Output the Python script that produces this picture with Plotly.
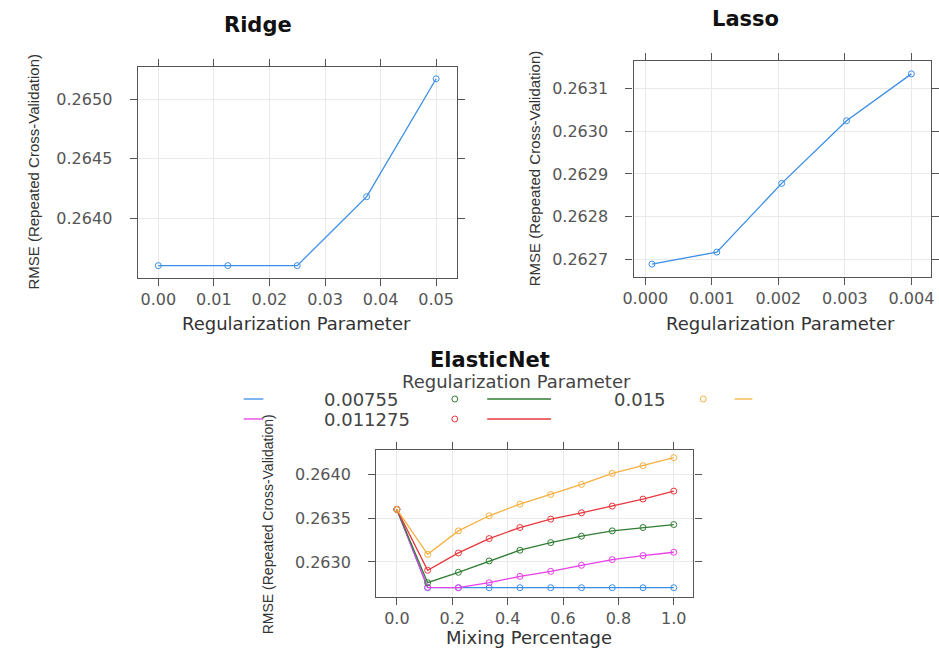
import plotly.graph_objects as go

W, H = 939, 648

# ---------------- data ----------------
ridge_lambda = [0.0, 0.0125, 0.025, 0.0375, 0.05]
ridge_rmse = [0.263602, 0.263602, 0.263602, 0.264181, 0.265171]

lasso_lambda = [0.0001, 0.001075, 0.00205, 0.003025, 0.004]
lasso_rmse = [0.262690, 0.262718, 0.262878, 0.263024, 0.263133]

en_alpha = [0.0, 0.1111, 0.2222, 0.3333, 0.4444, 0.5556, 0.6667, 0.7778, 0.8889, 1.0]
en_lambda_labels = ["0.0001", "0.003875", "0.00755", "0.011275", "0.015"]
en_rmse_0001 = [0.263600, 0.262706, 0.262706, 0.262706, 0.262706, 0.262706, 0.262706, 0.262706, 0.262706, 0.262706]
en_rmse_003875 = [0.263600, 0.262710, 0.262706, 0.262763, 0.262836, 0.262893, 0.262962, 0.263027, 0.263073, 0.263111]
en_rmse_00755 = [0.263600, 0.262763, 0.262882, 0.263011, 0.263134, 0.263221, 0.263294, 0.263355, 0.263393, 0.263427]
en_rmse_011275 = [0.263600, 0.262905, 0.263103, 0.263267, 0.263393, 0.263489, 0.263561, 0.263637, 0.263718, 0.263809]
en_rmse_015 = [0.263600, 0.263088, 0.263355, 0.263527, 0.263660, 0.263771, 0.263885, 0.264011, 0.264099, 0.264191]
en_series = [en_rmse_0001, en_rmse_003875, en_rmse_00755, en_rmse_011275, en_rmse_015]

ridge_xticks = [0.0, 0.01, 0.02, 0.03, 0.04, 0.05]
ridge_yticks = [0.2640, 0.2645, 0.2650]
lasso_xticks = [0.0, 0.001, 0.002, 0.003, 0.004]
lasso_yticks = [0.2627, 0.2628, 0.2629, 0.2630, 0.2631]
en_xticks = [0.0, 0.2, 0.4, 0.6, 0.8, 1.0]
en_yticks = [0.2630, 0.2635, 0.2640]

# ---------------- style ----------------
colors = ["#3a8ee6", "#e83ee8", "#2e7d32", "#e8383d", "#f5b040"]
HFONT = "DejaVu Sans"
VFONT = "Liberation Sans"


def px(x):
    return x / W


def py(y):
    return 1 - y / H


fig = go.Figure()

marker = dict(symbol="circle-open", size=6, line=dict(width=1))

fig.add_trace(go.Scatter(x=ridge_lambda, y=ridge_rmse, mode="lines+markers",
                         line=dict(color=colors[0], width=1.3),
                         marker=dict(color=colors[0], **marker),
                         xaxis="x", yaxis="y", showlegend=False))
fig.add_trace(go.Scatter(x=lasso_lambda, y=lasso_rmse, mode="lines+markers",
                         line=dict(color=colors[0], width=1.3),
                         marker=dict(color=colors[0], **marker),
                         xaxis="x2", yaxis="y2", showlegend=False))
for vals, col, name in zip(en_series, colors, en_lambda_labels):
    fig.add_trace(go.Scatter(x=en_alpha, y=vals, mode="lines+markers", name=name,
                             line=dict(color=col, width=1.3),
                             marker=dict(color=col, **marker),
                             xaxis="x3", yaxis="y3", showlegend=False))

common = dict(showline=True, linecolor="#555", linewidth=1.3, mirror="ticks",
              ticks="outside", ticklen=7, tickwidth=1.2, tickcolor="#555",
              showgrid=True, gridcolor="#e9e9e9", gridwidth=1, zeroline=False,
              tickfont=dict(family=HFONT, size=16, color="#555"))

XSO, YSO = 0, 14

fig.update_layout(
    width=W, height=H, margin=dict(l=0, r=0, t=0, b=0),
    paper_bgcolor="white", plot_bgcolor="white",
    xaxis=dict(domain=[px(129), px(454)], range=[-0.00371, 0.05371], anchor="y",
               tickvals=ridge_xticks, tickformat=".2f", ticklabelstandoff=XSO, **common),
    yaxis=dict(domain=[py(278), py(67)], range=[0.263498, 0.26527], anchor="x",
               tickvals=ridge_yticks, tickformat=".4f", ticklabelstandoff=YSO, **common),
    xaxis2=dict(domain=[px(634), px(937)], range=[-0.000177, 0.004295], anchor="y2",
                tickvals=lasso_xticks, tickformat=".3f", ticklabelstandoff=XSO, **common),
    yaxis2=dict(domain=[py(277), py(61)], range=[0.26266, 0.263163], anchor="x2",
                tickvals=lasso_yticks, tickformat=".4f", ticklabelstandoff=YSO, **common),
    xaxis3=dict(domain=[px(372), px(695)], range=[-0.0744, 1.0709], anchor="y3",
                tickvals=en_xticks, tickformat=".1f", ticklabelstandoff=XSO, **common),
    yaxis3=dict(domain=[py(597), py(450)], range=[0.2626, 0.264278], anchor="x3",
                tickvals=en_yticks, tickformat=".4f", ticklabelstandoff=YSO, **common),
)

# ---------------- titles & axis labels ----------------
ann = []


def text(t, x, y, size, family=HFONT, color="#333", bold=False, angle=0,
         xanchor="center"):
    ann.append(dict(text=("<b>%s</b>" % t) if bold else t, x=px(x), y=py(y),
                    xref="paper", yref="paper", showarrow=False, textangle=angle,
                    xanchor=xanchor, yanchor="middle",
                    font=dict(family=family, size=size, color=color)))


text("Ridge", 252, 25, 21, color="#111", bold=True)
text("Lasso", 748, 19, 21, color="#111", bold=True)
text("ElasticNet", 488, 360, 21, color="#111", bold=True)

text("Regularization Parameter", 291, 323, 18)
text("Regularization Parameter", 784, 323, 18)
text("Mixing Percentage", 528, 637, 18)

text("RMSE (Repeated Cross-Validation)", 22, 172, 15, family=VFONT, angle=-90)
text("RMSE (Repeated Cross-Validation)", 533, 168, 15, family=VFONT, angle=-90)
text("RMSE (Repeated Cross-Validation)", 262, 524, 14, family=VFONT, angle=-90)

# ---------------- ElasticNet key (lattice style, 3 columns) ----------------
text("Regularization Parameter", 515, 382, 18, color="#444")
key_rows_y = [399, 419]
key_text_x = [None, 317, 612]      # first column's text/points fall outside the page
key_point_x = [None, 452, 705]
key_line_x = [(237, 257), (485, 550), (737, 755)]
shapes = []
for i, (name, col) in enumerate(zip(en_lambda_labels, colors)):
    c, r = i // 2, i % 2
    y = key_rows_y[r]
    if key_text_x[c] is not None:
        text(name, key_text_x[c], y, 18, color="#444", xanchor="left")
    if key_point_x[c] is not None:
        xp = key_point_x[c]
        shapes.append(dict(type="circle", xref="paper", yref="paper",
                           x0=px(xp - 3), x1=px(xp + 3), y0=py(y + 3), y1=py(y - 3),
                           line=dict(color=col, width=1)))
    x0, x1 = key_line_x[c]
    shapes.append(dict(type="line", xref="paper", yref="paper",
                       x0=px(x0), x1=px(x1), y0=py(y), y1=py(y),
                       line=dict(color=col, width=1.3)))

fig.update_layout(annotations=ann, shapes=shapes)
fig.write_html("out.html", config={"displayModeBar": False},
               post_script="document.body.style.margin='0';document.body.style.overflow='hidden';")
